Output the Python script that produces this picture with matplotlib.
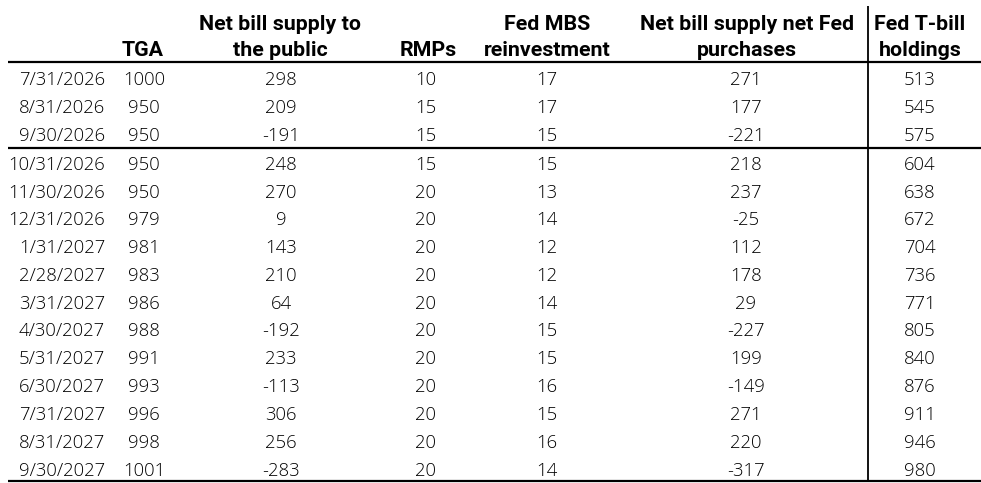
"""Bill supply / Fed T-bill holdings projection table, redrawn as a matplotlib figure."""
import matplotlib
matplotlib.use("Agg")
import matplotlib.pyplot as plt

W_PX, H_PX = 981, 483

dates = ["7/31/2026", "8/31/2026", "9/30/2026", "10/31/2026", "11/30/2026",
         "12/31/2026", "1/31/2027", "2/28/2027", "3/31/2027", "4/30/2027",
         "5/31/2027", "6/30/2027", "7/31/2027", "8/31/2027", "9/30/2027"]
tga = [1000, 950, 950, 950, 950, 979, 981, 983, 986, 988, 991, 993, 996, 998, 1001]
net_bill_public = [298, 209, -191, 248, 270, 9, 143, 210, 64, -192, 233, -113, 306, 256, -283]
rmps = [10, 15, 15, 15, 20, 20, 20, 20, 20, 20, 20, 20, 20, 20, 20]
mbs_reinv = [17, 17, 15, 15, 13, 14, 12, 12, 14, 15, 15, 16, 15, 16, 14]
net_bill_net_fed = [271, 177, -221, 218, 237, -25, 112, 178, 29, -227, 199, -149, 271, 220, -317]
fed_tbill = [513, 545, 575, 604, 638, 672, 704, 736, 771, 805, 840, 876, 911, 946, 980]

headers = [("", ""), ("", "TGA"), ("Net bill supply to", "the public"), ("", "RMPs"),
           ("Fed MBS", "reinvestment"), ("Net bill supply net Fed", "purchases"),
           ("Fed T-bill", "holdings")]

# layout (pixels, y downwards)
COL_X = [105, 144, 281, 426, 547, 746, 920]
HEAD_X = [None, 143, 280, 428, 547, 747, 920]
COL_HA = ["right", "center", "center", "center", "center", "center", "center"]
ROW0, ROW_H = 78.3, 27.8
SPLIT_AFTER = 2          # rule under 9/30/2026
SPLIT_GAP = 1.0
HEAD_BASE = (29.5, 55.5)
HEAD_LINE = 62.3
BOT_LINE = 481
VLINE_X = 868
LINE_X0, LINE_X1 = 8, 981

BODY_FONT = dict(family=["Open Sans", "DejaVu Sans"], fontsize=13.3, weight="light")
HEAD_FONT = dict(family=["Roboto", "DejaVu Sans"], fontsize=15.4, weight="bold")


def row_y(i):
    return ROW0 + i * ROW_H + (SPLIT_GAP if i > SPLIT_AFTER else 0.0)


def main():
    fig = plt.figure(figsize=(W_PX / 100, H_PX / 100), dpi=100)
    ax = fig.add_axes([0, 0, 1, 1])
    ax.set_xlim(0, W_PX); ax.set_ylim(H_PX, 0)
    ax.axis("off")

    cols = [dates, tga, net_bill_public, rmps, mbs_reinv, net_bill_net_fed, fed_tbill]

    for (top, bot), hx in zip(headers, HEAD_X):
        if top:
            ax.text(hx, HEAD_BASE[0], top, ha="center", va="baseline", **HEAD_FONT)
        if bot:
            ax.text(hx, HEAD_BASE[1], bot, ha="center", va="baseline", **HEAD_FONT)

    for col, x, ha in zip(cols, COL_X, COL_HA):
        for i, v in enumerate(col):
            ax.text(x, row_y(i), str(v), ha=ha, va="center_baseline", **BODY_FONT)

    line_kw = dict(color="black", lw=1.6, solid_capstyle="butt")
    ysplit = 0.5 * (row_y(SPLIT_AFTER) + row_y(SPLIT_AFTER + 1)) - 0.5
    for y in (HEAD_LINE, ysplit, BOT_LINE):
        ax.plot([LINE_X0, LINE_X1], [y, y], **line_kw)
    ax.plot([VLINE_X, VLINE_X], [6, BOT_LINE], color="black", lw=1.3,
            solid_capstyle="butt")

    fig.savefig("out.png", dpi=100, facecolor="white")
    plt.close(fig)


if __name__ == "__main__":
    main()
